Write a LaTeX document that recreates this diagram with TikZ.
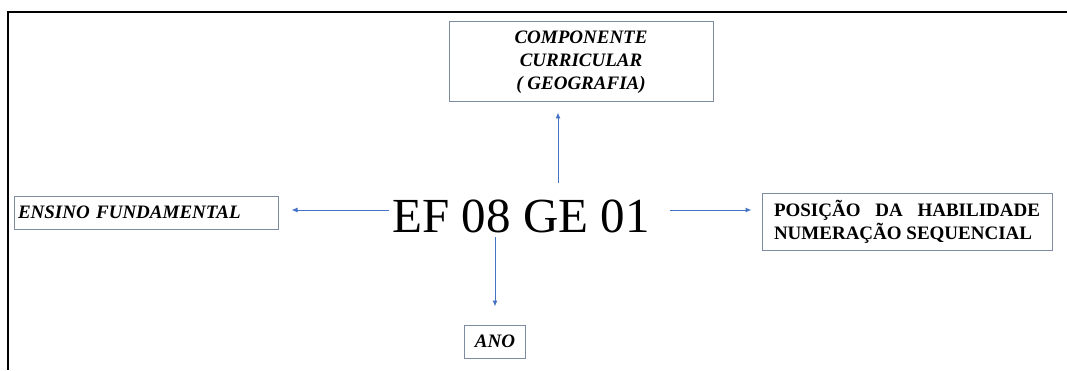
\documentclass[tikz,border=0pt]{standalone}
\usepackage{fontspec}
\setmainfont{Liberation Serif}
\usetikzlibrary{arrows.meta}
\definecolor{ArrowBlue}{RGB}{68,114,196}
\definecolor{BoxEdge}{RGB}{125,140,160}

\begin{document}
\begin{tikzpicture}[x=1pt,y=1pt,
    box/.style={draw=BoxEdge,line width=1pt,inner sep=0pt,
      font=\fontsize{19}{23}\selectfont\bfseries},
    arr/.style={draw=ArrowBlue,line width=1pt,
      -{Latex[length=6pt,width=5pt]}}]
  \useasboundingbox (0,0) rectangle (1067,370);
  \draw[line width=1.4pt] (8,0) -- (8,358) -- (1067,358);
  \node[inner sep=0pt,anchor=base,text height=49pt,text depth=5pt,
        font=\fontsize{49}{49}\selectfont] (code) at (521,138) {EF 08 GE 01};
  \node[box,minimum width=264pt,minimum height=80pt,align=center,
        font=\fontsize{19}{23}\selectfont\bfseries\itshape] (comp) at (581,308)
        {COMPONENTE\\CURRICULAR\\( GEOGRAFIA)};
  \node[box,minimum height=33pt,text width=256pt,inner xsep=4pt,align=left,
        font=\fontsize{19}{23}\selectfont\bfseries\itshape] (ens) at (146,157.5)
        {ENSINO FUNDAMENTAL};
  \node[box,minimum height=57pt,text width=266pt,inner xsep=12pt,align=justify]
        (pos) at (907,148.5) {POSIÇÃO DA HABILIDADE\linebreak NUMERAÇÃO SEQUENCIAL};
  \node[box,minimum width=61pt,minimum height=33pt,
        font=\fontsize{19}{23}\selectfont\bfseries\itshape] (ano) at (495,28.5) {ANO};
  \draw[arr,shorten <=3pt,shorten >=13pt] (code.west) -- (code.west -| ens.east);
  \draw[arr,shorten <=20pt,shorten >=10pt] (code.east) -- (code.east -| pos.west);
  \draw[arr,shorten >=10pt] ([xshift=37pt]code.north) -- ([xshift=37pt]code.north |- comp.south);
  \draw[arr,shorten >=18pt] (code.south -| ano.north) -- (ano.north);
\end{tikzpicture}
\end{document}
